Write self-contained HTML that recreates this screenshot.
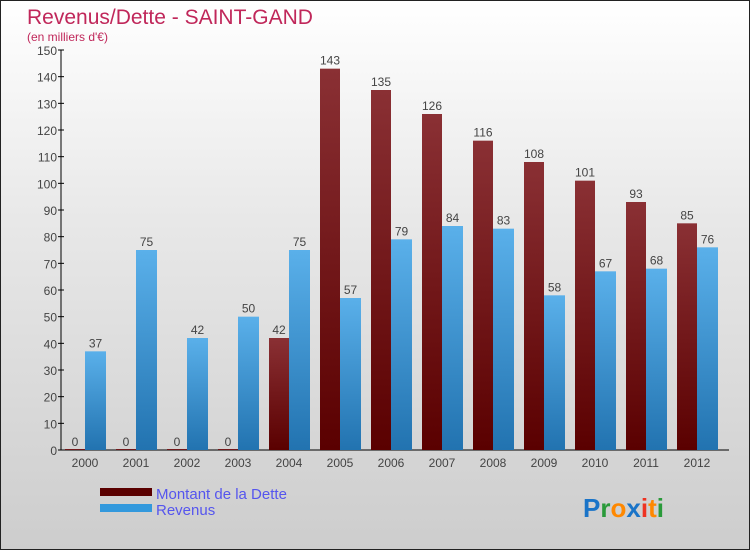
<!DOCTYPE html>
<html><head><meta charset="utf-8"><style>
body{margin:0}
#c{position:relative;width:748px;height:548px;border:1px solid #222;background:linear-gradient(#ffffff,#e8e8e8 40%,#cdcdcd);font-family:"Liberation Sans",sans-serif;overflow:hidden}
</style></head><body>
<div id="c">
<svg id="s" width="748" height="548" xmlns="http://www.w3.org/2000/svg">
<defs>
<linearGradient id="gd" x1="0" y1="0" x2="0" y2="1"><stop offset="0" stop-color="#8a3034"/><stop offset="1" stop-color="#5a0000"/></linearGradient>
<linearGradient id="gr" x1="0" y1="0" x2="0" y2="1"><stop offset="0" stop-color="#5ab0ea"/><stop offset="1" stop-color="#2273b0"/></linearGradient>
</defs>
<text x="26" y="23" font-size="21" fill="#c0275a">Revenus/Dette - SAINT-GAND</text>
<text x="26" y="40" font-size="12" fill="#c0275a">(en milliers d'€)</text>
<g id="g"></g>
<rect x="99" y="487" width="52" height="8" fill="#5a0000"/>
<rect x="99" y="503" width="52" height="8" fill="#3399dd"/>
<text x="155" y="498" font-size="15" fill="#5555ee">Montant de la Dette</text>
<text x="155" y="514" font-size="15" fill="#5555ee">Revenus</text>
<text x="582" y="516" font-size="26" font-weight="bold"><tspan fill="#1a74c8">P</tspan><tspan fill="#2a9a3a">r</tspan><tspan fill="#ff8800">o</tspan><tspan fill="#1a74c8">x</tspan><tspan fill="#ee3322">i</tspan><tspan fill="#ff8800">t</tspan><tspan fill="#2a9a3a">i</tspan></text>
</svg>
</div>
<script>
const years=["2000","2001","2002","2003","2004","2005","2006","2007","2008","2009","2010","2011","2012"];
const dette=[0,0,0,0,42,143,135,126,116,108,101,93,85];
const revenus=[37,75,42,50,75,57,79,84,83,58,67,68,76];
const yTicks=[0,10,20,30,40,50,60,70,80,90,100,110,120,130,140,150];
const NS="http://www.w3.org/2000/svg";
const g=document.getElementById('g');
const y=v=>449-v*400/150;
const xc=i=>84+i*51;
function el(t,a){const e=document.createElementNS(NS,t);for(const k in a)e.setAttribute(k,a[k]);g.appendChild(e);return e;}
let ax=el('line',{x1:60,y1:y(150),x2:60,y2:449,stroke:'#000'});


let bx=el('line',{x1:60,y1:449,x2:728,y2:449,stroke:'#000'});


yTicks.forEach(v=>{
 const l=el('line',{x1:57,y1:y(v),x2:63,y2:y(v),stroke:'#000'});
 
 
 const t=el('text',{x:56,y:y(v)+5,'font-size':12,fill:'#444','text-anchor':'end'});t.textContent=v;
 
 
});
years.forEach((yr,i)=>{
 const c=xc(i);
 const d=el('rect',{x:c-20,y:y(dette[i])-(dette[i]?0:1),width:20,height:Math.max(1,449-y(dette[i])),fill:'url(#gd)'});
 
 
 const r=el('rect',{x:c,y:y(revenus[i]),width:21,height:449-y(revenus[i]),fill:'url(#gr)'});
 
 
 const dl=el('text',{x:c-10,y:y(dette[i])-4,'font-size':12,fill:'#444','text-anchor':'middle'});dl.textContent=dette[i];
 
 
 const rl=el('text',{x:c+10.5,y:y(revenus[i])-4,'font-size':12,fill:'#444','text-anchor':'middle'});rl.textContent=revenus[i];
 
 
 const xl=el('text',{x:c,y:466,'font-size':12,fill:'#444','text-anchor':'middle'});xl.textContent=yr;
 
 
});
</script>
</body></html>
